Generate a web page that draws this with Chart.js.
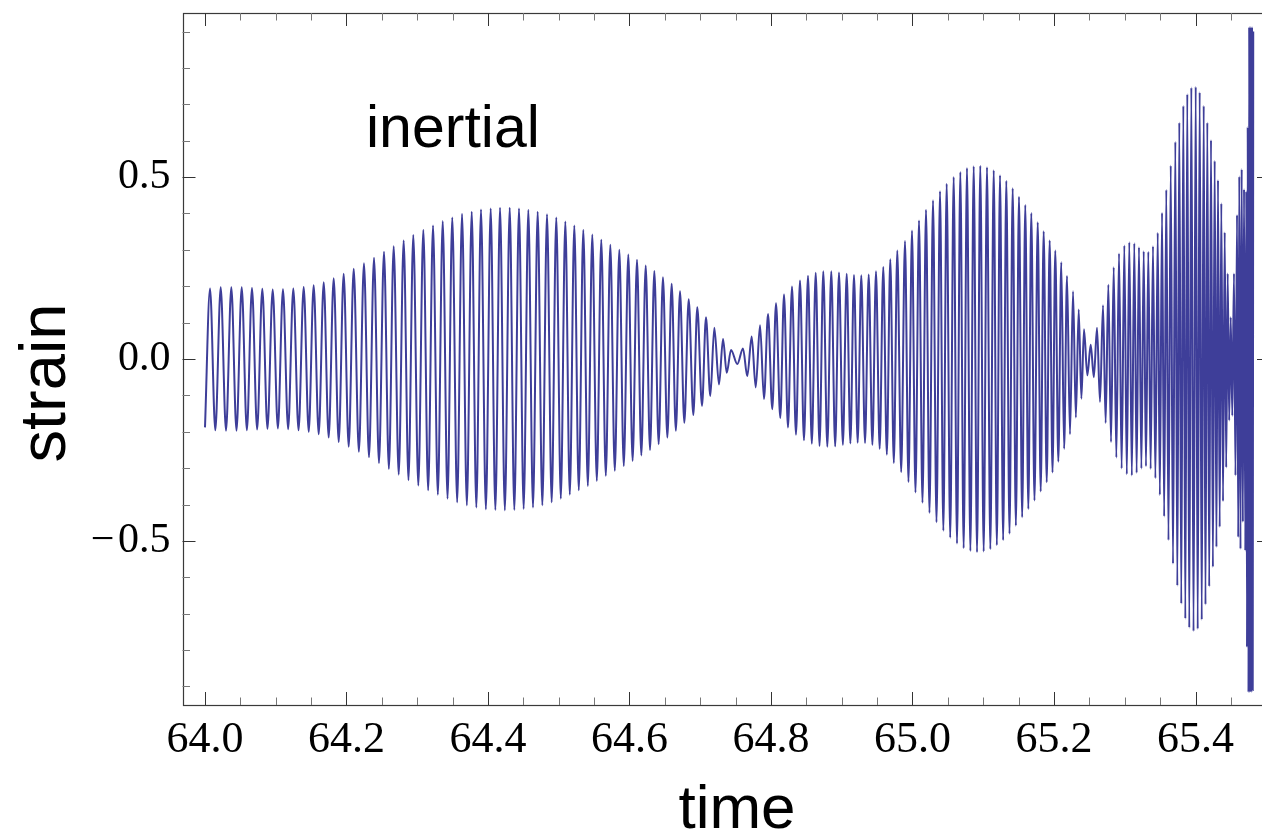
<!DOCTYPE html>
<html>
<head>
<meta charset="utf-8">
<script src="https://cdn.jsdelivr.net/npm/chart.js@4.4.1/dist/chart.umd.min.js"></script>
<style>
  html, body { margin: 0; padding: 0; background: #ffffff; overflow: hidden; }
  #wrap { width: 1262px; height: 832px; overflow: hidden; position: relative; }
  canvas { display: block; }
</style>
</head>
<body>
<div id="wrap"><canvas id="c" width="1300" height="832" style="width:1300px;height:832px"></canvas></div>
<script>
// ---- data (successive maxima / minima of the strain) ----
const time = [
64.0000,64.0071,64.0146,64.0222,64.0297,64.0372,64.0445,64.0519,64.0592,64.0664,
64.0737,64.0810,64.0883,64.0957,64.1030,64.1102,64.1175,64.1248,64.1322,64.1395,
64.1466,64.1536,64.1607,64.1678,64.1748,64.1819,64.1890,64.1960,64.2031,64.2102,
64.2175,64.2247,64.2318,64.2389,64.2459,64.2530,64.2599,64.2667,64.2738,64.2808,
64.2876,64.2944,64.3015,64.3086,64.3154,64.3223,64.3291,64.3360,64.3428,64.3495,
64.3564,64.3633,64.3701,64.3770,64.3835,64.3901,64.3970,64.4038,64.4104,64.4170,
64.4238,64.4307,64.4372,64.4438,64.4504,64.4570,64.4636,64.4702,64.4768,64.4834,
64.4900,64.4965,64.5029,64.5093,64.5156,64.5220,64.5283,64.5347,64.5411,64.5474,
64.5538,64.5601,64.5665,64.5729,64.5792,64.5856,64.5919,64.5983,64.6044,64.6106,
64.6167,64.6229,64.6290,64.6351,64.6412,64.6473,64.6535,64.6596,64.6655,64.6714,
64.6775,64.6837,64.6902,64.6958,64.7025,64.7081,64.7142,64.7199,64.7265,64.7322,
64.7374,64.7435,64.7524,64.7604,64.7665,64.7727,64.7784,64.7845,64.7901,64.7958,
64.8018,64.8071,64.8131,64.8184,64.8240,64.8297,64.8353,64.8410,64.8466,64.8523,
64.8577,64.8632,64.8686,64.8739,64.8796,64.8852,64.8907,64.8961,64.9016,64.9070,
64.9122,64.9173,64.9225,64.9276,64.9329,64.9381,64.9433,64.9484,64.9536,64.9587,
64.9637,64.9686,64.9736,64.9785,64.9840,64.9894,64.9943,64.9993,65.0042,65.0092,
65.0141,65.0191,65.0240,65.0290,65.0339,65.0389,65.0436,65.0483,65.0533,65.0582,
65.0629,65.0676,65.0723,65.0770,65.0818,65.0865,65.0912,65.0958,65.1006,65.1053,
65.1100,65.1148,65.1192,65.1237,65.1281,65.1326,65.1371,65.1416,65.1461,65.1505,
65.1550,65.1594,65.1637,65.1679,65.1724,65.1770,65.1812,65.1854,65.1897,65.1939,
65.1979,65.2018,65.2061,65.2103,65.2143,65.2184,65.2226,65.2269,65.2309,65.2349,
65.2387,65.2424,65.2471,65.2519,65.2563,65.2608,65.2650,65.2693,65.2730,65.2768,
65.2806,65.2844,65.2881,65.2919,65.2956,65.2994,65.3029,65.3064,65.3100,65.3135,
65.3168,65.3201,65.3235,65.3268,65.3300,65.3333,65.3366,65.3399,65.3433,65.3466,
65.3496,65.3527,65.3557,65.3587,65.3618,65.3650,65.3682,65.3715,65.3743,65.3771,
65.3799,65.3828,65.3856,65.3884,65.3912,65.3941,65.3972,65.4003,65.4031,65.4059,
65.4088,65.4116,65.4141,65.4167,65.4194,65.4219,65.4246,65.4271,65.4296,65.4318,
65.4342,65.4365,65.4389,65.4413,65.4434,65.4455,65.4476,65.4498,65.4520,65.4544,
65.4565,65.4587,65.4604,65.4619,65.4636,65.4653,65.4669,65.4686,65.4704,65.4718,
65.4728,65.4738,65.4749,65.4759,65.4769,65.4779,65.4789,65.4799,65.4809,65.4816
];

const strain = [
-0.188,0.194,-0.196,0.197,-0.197,0.197,-0.197,0.197,-0.196,0.195,
-0.194,0.193,-0.192,0.191,-0.191,0.192,-0.193,0.194,-0.196,0.198,
-0.200,0.203,-0.207,0.211,-0.216,0.222,-0.228,0.234,-0.241,0.248,
-0.255,0.263,-0.270,0.278,-0.286,0.295,-0.302,0.310,-0.318,0.326,
-0.333,0.341,-0.348,0.355,-0.361,0.367,-0.373,0.379,-0.384,0.389,
-0.394,0.399,-0.402,0.405,-0.408,0.411,-0.413,0.414,-0.415,0.416,
-0.416,0.416,-0.415,0.414,-0.412,0.410,-0.408,0.405,-0.402,0.398,
-0.394,0.389,-0.384,0.378,-0.373,0.367,-0.361,0.355,-0.349,0.342,
-0.335,0.328,-0.321,0.314,-0.307,0.300,-0.294,0.287,-0.280,0.273,
-0.265,0.257,-0.250,0.242,-0.234,0.225,-0.216,0.207,-0.197,0.186,
-0.175,0.164,-0.154,0.142,-0.129,0.115,-0.102,0.086,-0.070,0.055,
-0.038,0.025,-0.014,0.029,-0.047,0.062,-0.078,0.093,-0.110,0.124,
-0.138,0.153,-0.162,0.177,-0.188,0.199,-0.208,0.216,-0.223,0.229,
-0.233,0.237,-0.239,0.241,-0.241,0.241,-0.240,0.238,-0.236,0.234,
-0.232,0.231,-0.230,0.230,-0.231,0.232,-0.236,0.241,-0.247,0.253,
-0.263,0.274,-0.286,0.298,-0.311,0.324,-0.338,0.353,-0.367,0.381,
-0.395,0.410,-0.423,0.436,-0.449,0.461,-0.472,0.482,-0.491,0.500,
-0.507,0.514,-0.520,0.525,-0.528,0.530,-0.531,0.531,-0.529,0.527,
-0.523,0.519,-0.512,0.505,-0.498,0.490,-0.480,0.469,-0.458,0.446,
-0.435,0.423,-0.412,0.401,-0.389,0.376,-0.364,0.351,-0.339,0.326,
-0.312,0.298,-0.282,0.266,-0.247,0.228,-0.207,0.186,-0.161,0.136,
-0.109,0.082,-0.045,0.039,-0.050,0.086,-0.118,0.148,-0.176,0.204,
-0.228,0.252,-0.271,0.290,-0.301,0.312,-0.317,0.321,-0.320,0.318,
-0.313,0.307,-0.301,0.296,-0.295,0.295,-0.302,0.310,-0.328,0.347,
-0.374,0.402,-0.433,0.465,-0.498,0.532,-0.563,0.597,-0.623,0.650,
-0.673,0.696,-0.714,0.728,-0.739,0.746,-0.748,0.748,-0.742,0.733,
-0.717,0.696,-0.675,0.650,-0.625,0.602,-0.572,0.545,-0.517,0.492,
-0.462,0.428,-0.391,0.348,-0.298,0.235,-0.169,0.115,-0.156,0.235,
-0.320,0.396,-0.490,0.502,-0.522,0.522,-0.448,0.467,-0.527,0.461,
-0.792,0.638,-0.916,0.913,-0.916,0.913,-0.916,0.913,-0.910,0.900
];

// ---- axes ----
const xRange = [63.9682, 65.5053];
const yRange = [-0.951, 0.951];
const xMajorTicks = [64.0, 64.2, 64.4, 64.6, 64.8, 65.0, 65.2, 65.4];
const xMinorTicks = [64.05, 64.10, 64.15, 64.25, 64.30, 64.35, 64.45, 64.50, 64.55,
                     64.65, 64.70, 64.75, 64.85, 64.90, 64.95, 65.05, 65.10, 65.15,
                     65.25, 65.30, 65.35, 65.45, 65.50];
const yMajorTicks = [-0.5, 0.0, 0.5];
const yMinorTicks = [-0.9, -0.8, -0.7, -0.6, -0.4, -0.3, -0.2, -0.1,
                     0.1, 0.2, 0.3, 0.4, 0.6, 0.7, 0.8, 0.9];
const xTitle = 'time';
const yTitle = 'strain';
const annotation = 'inertial';

const LINE_COLOR = '#3e3e99';
const SANS = '"Liberation Sans", Arial, Helvetica, sans-serif';
const SERIF = '"Liberation Serif", "Times New Roman", serif';

function fmtY(v) {
  if (Math.abs(v) < 1e-9) return '0.0';
  return v < 0 ? '\u2212\u200A' + Math.abs(v).toFixed(1) : v.toFixed(1);
}

const framePlugin = {
  id: 'mmaFrame',
  afterDraw(chart) {
    const { ctx, chartArea: a, scales } = chart;
    const xs = scales.x, ys = scales.y;
    ctx.save();
    ctx.strokeStyle = '#3a3a3a';
    ctx.lineWidth = 1.2;
    ctx.strokeRect(Math.round(a.left) + 0.5, Math.round(a.top) + 0.5,
                   Math.round(a.right - a.left), Math.round(a.bottom - a.top));
    const MAJ = 13, MIN = 7.5;
    function xt(list, len, col) {
      ctx.strokeStyle = col; ctx.lineWidth = 1;
      ctx.beginPath();
      list.forEach(v => {
        const px = Math.round(xs.getPixelForValue(v)) + 0.5;
        ctx.moveTo(px, a.bottom); ctx.lineTo(px, a.bottom - len);
        ctx.moveTo(px, a.top); ctx.lineTo(px, a.top + len);
      });
      ctx.stroke();
    }
    function yt(list, len, col) {
      ctx.strokeStyle = col; ctx.lineWidth = 1;
      ctx.beginPath();
      list.forEach(v => {
        const py = Math.round(ys.getPixelForValue(v)) + 0.5;
        ctx.moveTo(a.left, py); ctx.lineTo(a.left + len, py);
        ctx.moveTo(a.right, py); ctx.lineTo(a.right - len, py);
      });
      ctx.stroke();
    }
    xt(xMinorTicks, MIN, '#777');
    xt(xMajorTicks, MAJ, '#333');
    yt(yMinorTicks, MIN, '#777');
    yt(yMajorTicks, MAJ, '#333');

    ctx.fillStyle = '#000';
    ctx.textBaseline = 'alphabetic';
    ctx.textAlign = 'center';
    ctx.font = '62px ' + SANS;
    ctx.fillText(xTitle, 737, 828);

    ctx.save();
    ctx.translate(65, 383);
    ctx.rotate(-Math.PI / 2);
    ctx.font = '65px ' + SANS;
    ctx.fillText(yTitle, 0, 0);
    ctx.restore();

    ctx.font = '59px ' + SANS;
    ctx.textAlign = 'left';
    ctx.fillText(annotation, 366, 147);
    ctx.restore();
  }
};

const points = time.map((t, i) => ({ x: t, y: strain[i] }));

new Chart(document.getElementById('c').getContext('2d'), {
  type: 'line',
  data: {
    datasets: [{
      data: points,
      borderColor: LINE_COLOR,
      borderWidth: 2,
      pointRadius: 0,
      fill: false,
      cubicInterpolationMode: 'monotone'
    }]
  },
  options: {
    responsive: false,
    animation: false,
    events: [],
    layout: { padding: { left: 0, right: 30, top: 13, bottom: 0 } },
    plugins: { legend: { display: false }, tooltip: { enabled: false } },
    scales: {
      x: {
        type: 'linear',
        min: xRange[0], max: xRange[1],
        grid: { display: false, drawTicks: false },
        border: { display: false },
        afterBuildTicks: s => { s.ticks = xMajorTicks.map(v => ({ value: v })); },
        afterFit: s => { s.height = 127; s.paddingLeft = 0; s.paddingRight = 0; },
        ticks: {
          font: { family: SERIF, size: 44 },
          color: '#000',
          padding: 9,
          maxRotation: 0,
          autoSkip: false,
          callback: v => Number(v).toFixed(1)
        }
      },
      y: {
        type: 'linear',
        min: yRange[0], max: yRange[1],
        grid: { display: false, drawTicks: false },
        border: { display: false },
        afterBuildTicks: s => { s.ticks = yMajorTicks.map(v => ({ value: v })); },
        afterFit: s => { s.width = 182.5; s.paddingTop = 0; s.paddingBottom = 0; },
        ticks: {
          font: { family: SERIF, size: 42 },
          color: '#000',
          padding: 12,
          autoSkip: false,
          callback: v => fmtY(Number(v))
        }
      }
    }
  },
  plugins: [framePlugin]
});
</script>
</body>
</html>
